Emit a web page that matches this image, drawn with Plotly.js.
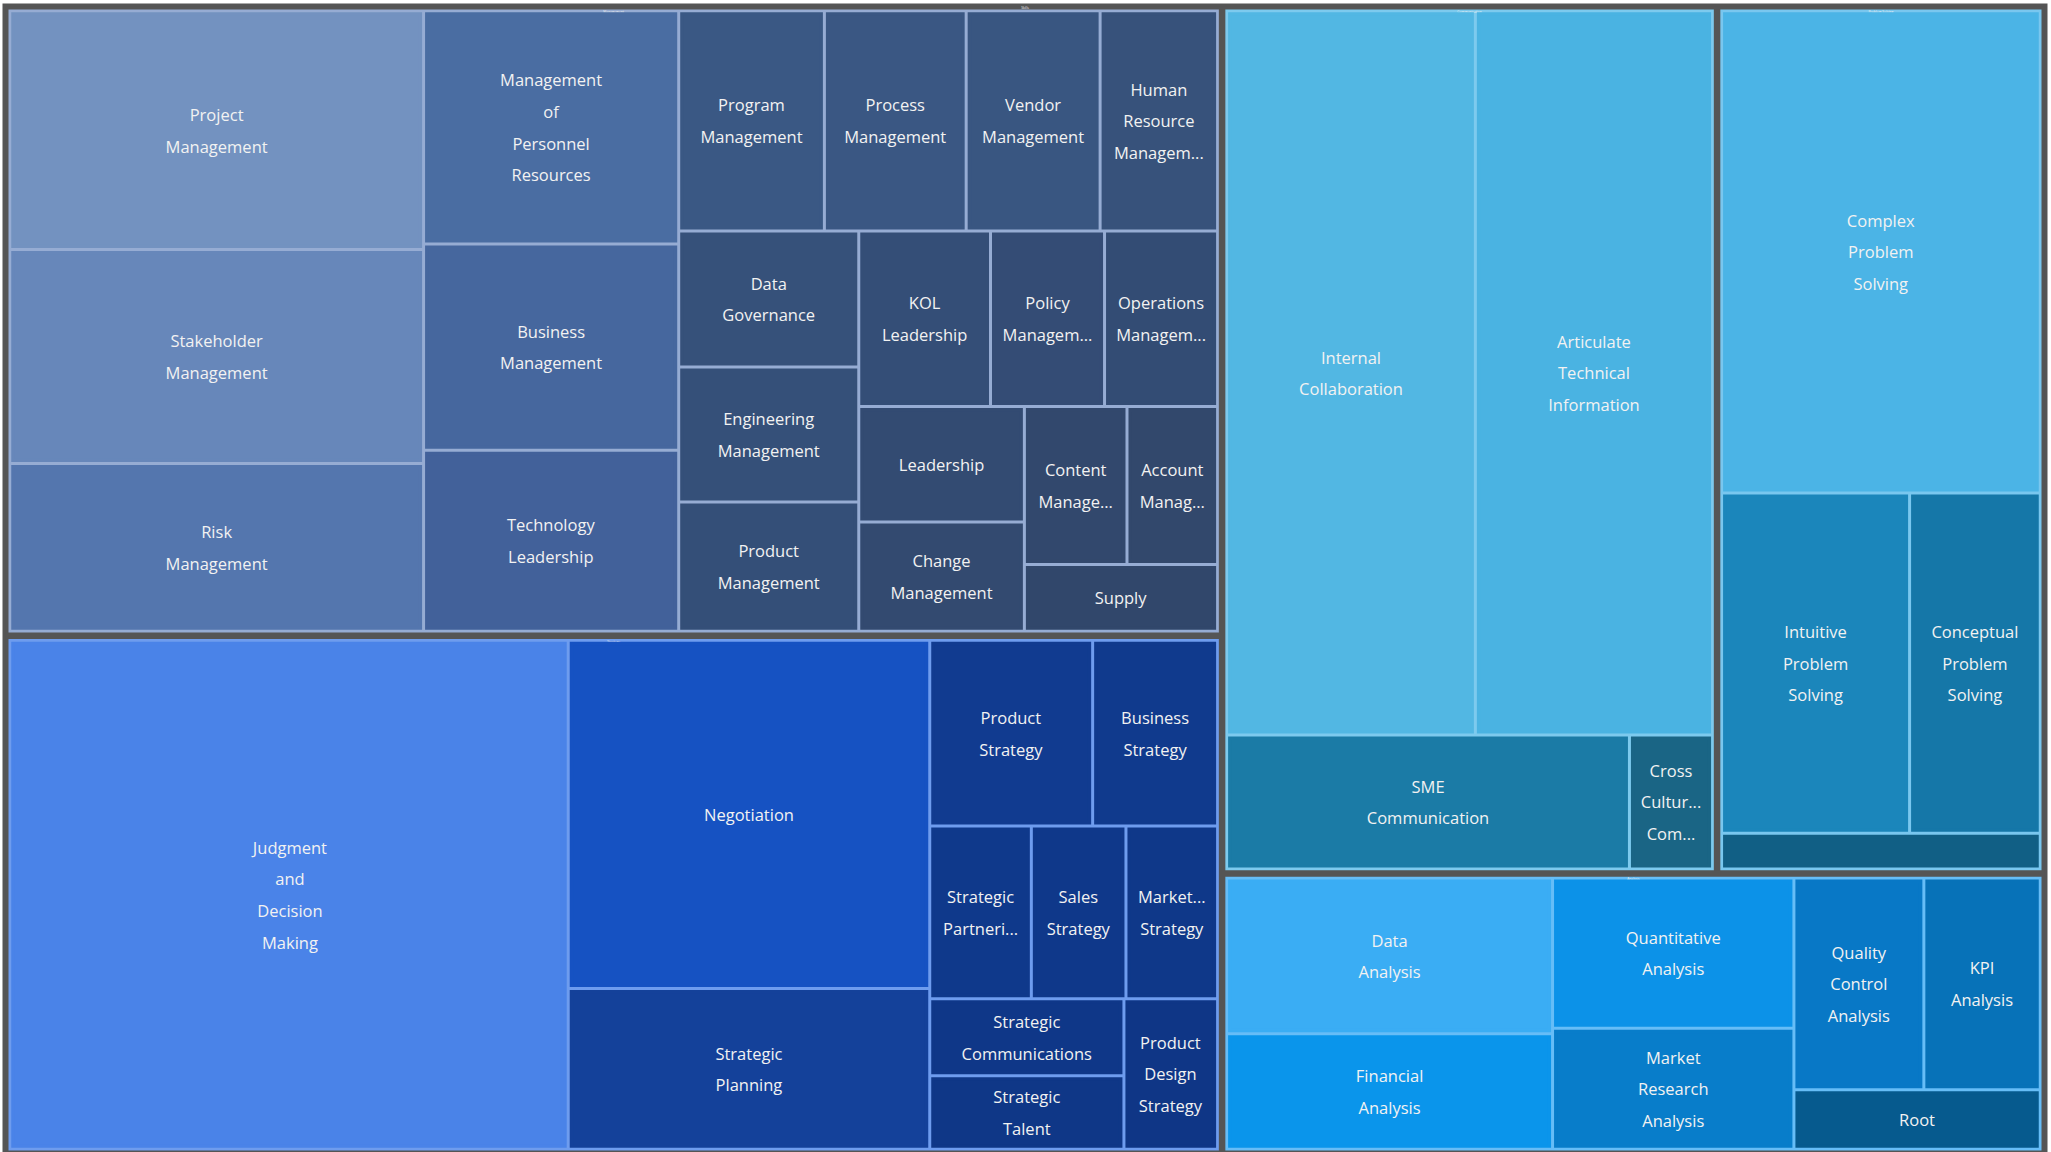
<!DOCTYPE html>
<html>
<head>
<meta charset="utf-8">
<script src="https://cdn.plot.ly/plotly-3.0.1.min.js"></script>
<style>html,body{margin:0;padding:0;overflow:hidden;background:#ffffff}</style>
</head>
<body>
<div id="chart" style="width:2051px;height:1155px"></div>
<script>
// ---- data ----
const rootLabel = 'Skills';
const rootColor = '#555555';

const groupNames = ['Management', 'Strategy', 'Communication', 'Problem Solving', 'Analysis'];
const groupColors = ['#96ACD3', '#6E9CEE', '#7DCAEE', '#79C7EF', '#66BDF7'];

const managementLabels = ['Project Management', 'Stakeholder Management', 'Risk Management',
  'Management of Personnel Resources', 'Business Management', 'Technology Leadership',
  'Program Management', 'Process Management', 'Vendor Management', 'Human Resource Managem...',
  'Data Governance', 'Engineering Management', 'Product Management', 'KOL Leadership',
  'Policy Managem...', 'Operations Managem...', 'Leadership', 'Change Management',
  'Content Manage...', 'Account Manag...', 'Supply'];
const managementValues = [57.3, 51.3, 40.3, 34.5, 30.5, 26.8, 18.6, 18.1, 17.1, 15.0,
  14.2, 14.1, 13.5, 13.4, 11.6, 11.5, 11.1, 10.5, 9.4, 8.3, 7.5];
const managementColors = ['#7392C0', '#6787BA', '#5476AE', '#4A6DA2', '#46679E', '#42619A',
  '#3A5884', '#3A5783', '#395681', '#37527B', '#36517A', '#355079', '#344F78', '#344E77',
  '#344C75', '#334C74', '#334B72', '#334A70', '#32486D', '#32486C', '#31476B'];

const strategyLabels = ['Judgment and Decision Making', 'Negotiation', 'Strategic Planning',
  'Product Strategy', 'Business Strategy', 'Strategic Partneri...', 'Sales Strategy',
  'Market... Strategy', 'Strategic Communications', 'Strategic Talent', 'Product Design Strategy'];
const strategyValues = [165.3, 73.2, 33.8, 17.6, 13.5, 10.2, 9.5, 9.2, 8.7, 8.3, 8.2];
const strategyColors = ['#4A83E8', '#1652C2', '#14419A', '#113B90', '#103A8D', '#0F398B',
  '#0F388A', '#0F3889', '#0F3788', '#0F3787', '#0F3686'];

const communicationLabels = ['Internal Collaboration', 'Articulate Technical Information',
  'SME Communication', 'Cross Cultur... Com...'];
const communicationValues = [105.2, 100.3, 31.5, 6.5];
const communicationColors = ['#52B7E3', '#4AB3E2', '#1B7BA6', '#1A6585'];

const problemLabels = ['Complex Problem Solving', 'Intuitive Problem Solving',
  'Conceptual Problem Solving', 'Other'];
const problemTexts = ['Complex Problem Solving', 'Intuitive Problem Solving',
  'Conceptual Problem Solving', ''];
const problemValues = [90.6, 37.7, 26.2, 6.7];
const problemColors = ['#4BB4E6', '#1B86BB', '#1577A8', '#115F85'];

const analysisLabels = ['Data Analysis', 'Financial Analysis', 'Quantitative Analysis',
  'Market Research Analysis', 'Quality Control Analysis', 'KPI Analysis', 'Root'];
const analysisValues = [30.1, 22.3, 21.5, 17.3, 16.3, 14.6, 8.7];
const analysisColors = ['#3AADF4', '#0A95EB', '#0C92E8', '#087DCA', '#0878C6', '#0772B8', '#065A8E'];

// ---- build treemap arrays ----
const ids = ['root'], labels = [rootLabel], parents = [''], values = [0];
const colors = [rootColor], lineColors = [rootColor], lineWidths = [3], texts = [''];

function fmt(label) {
  if (!label) return '';
  return label.split(' ').map(w => '<span style="font-size:16.5px">' + w + '</span>').join('<br>');
}

const leafSets = [
  [managementLabels, managementValues, managementColors, managementLabels],
  [strategyLabels, strategyValues, strategyColors, strategyLabels],
  [communicationLabels, communicationValues, communicationColors, communicationLabels],
  [problemLabels, problemValues, problemColors, problemTexts],
  [analysisLabels, analysisValues, analysisColors, analysisLabels]
];

groupNames.forEach((g, gi) => {
  const gid = 'g' + gi;
  ids.push(gid); labels.push(g); parents.push('root'); values.push(0);
  colors.push(groupColors[gi]); lineColors.push(groupColors[gi]); lineWidths.push(0); texts.push('');
  const [ls, vs, cs, ts] = leafSets[gi];
  ls.forEach((l, i) => {
    ids.push(gid + '_' + i); labels.push(l); parents.push(gid); values.push(vs[i]);
    colors.push(cs[i]); lineColors.push(cs[i]); lineWidths.push(3.5); texts.push(fmt(ts[i]));
  });
});

const trace = {
  type: 'treemap',
  ids: ids, labels: labels, parents: parents, values: values,
  branchvalues: 'remainder',
  text: texts,
  textinfo: 'text',
  textposition: 'middle center',
  textfont: {family: 'Open Sans, sans-serif', size: 24.4, color: '#F2F2F2'},
  marker: {
    colors: colors,
    line: {color: lineColors, width: lineWidths},
    pad: {t: 4.5, l: 4.5, r: 4.5, b: 4.5},
    depthfade: false
  },
  tiling: {packing: 'squarify', squarifyratio: 1.618034, pad: 6.5},
  pathbar: {visible: false},
  hoverinfo: 'label+value',
  sort: true
};

const layout = {
  width: 2051, height: 1155,
  margin: {l: 4, r: 5, t: 5, b: 0},
  paper_bgcolor: '#ffffff',
  font: {family: 'Open Sans, sans-serif'},
  showlegend: false
};

Plotly.newPlot('chart', [trace], layout, {displayModeBar: false, staticPlot: true});
</script>
</body>
</html>
